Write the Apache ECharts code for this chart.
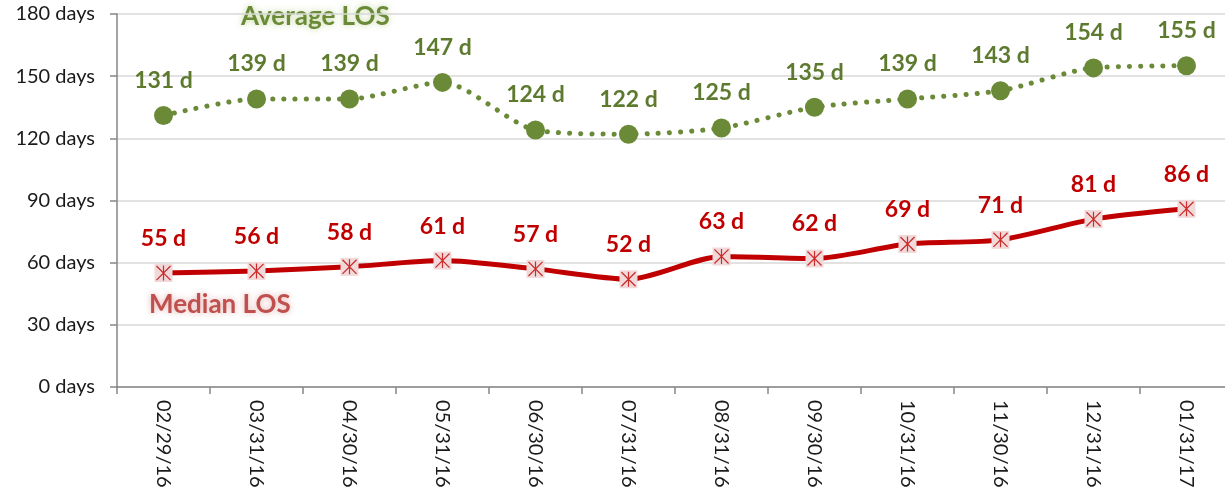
<!DOCTYPE html>
<html>
<head>
<meta charset="utf-8">
<script src="https://cdn.jsdelivr.net/npm/echarts@6/dist/echarts.min.js"></script>
<style>
html,body{margin:0;padding:0;background:#fff;}
#chart{width:1225px;height:495px;}
</style>
</head>
<body>
<div id="chart"></div>
<script>
const categories = ['02/29/16','03/31/16','04/30/16','05/31/16','06/30/16','07/31/16','08/31/16','09/30/16','10/31/16','11/30/16','12/31/16','01/31/17'];
const averageLOS = [131,139,139,147,124,122,125,135,139,143,154,155];
const medianLOS = [55,56,58,61,57,52,63,62,69,71,81,86];
const yTicks = [0,30,60,90,120,150,180];

const FONT = 'Lato, "Open Sans", sans-serif';
const GREEN = '#6a8a37';
const RED = '#c00000';
const asterisk = 'path://M9.2,0 L10.8,0 L10.8,20 L9.2,20 Z M1.2,0 L20,18.8 L18.8,20 L0,1.2 Z M18.8,0 L20,1.2 L1.2,20 L0,18.8 Z';

const chart = echarts.init(document.getElementById('chart'));
chart.setOption({
  animation: false,
  backgroundColor: '#fff',
  grid: {left: 117, width: 1116, top: 14, height: 373, containLabel: false, outerBoundsMode: 'none'},
  xAxis: {
    type: 'category',
    data: categories,
    boundaryGap: true,
    axisLine: {lineStyle: {color: '#868686', width: 1.5}},
    axisTick: {show: true, length: 7, lineStyle: {color: '#868686', width: 1.5}},
    axisLabel: {rotate: -90, fontFamily: FONT, fontSize: 20, color: '#1a1a1a', margin: 13}
  },
  yAxis: {
    type: 'value',
    min: 0, max: 180, interval: 30,
    axisLine: {show: true, lineStyle: {color: '#868686', width: 1.5}},
    axisTick: {show: true, length: 7, lineStyle: {color: '#868686', width: 1.5}},
    splitLine: {lineStyle: {color: '#d9d9d9', width: 1.5}},
    axisLabel: {fontFamily: FONT, fontSize: 20, color: '#1a1a1a', margin: 22,
      formatter: v => yTicks.includes(v) ? v + ' days' : ''}
  },
  graphic: [
    {type: 'text', left: 241, top: 4, style: {text: 'Average LOS', fontFamily: FONT, fontWeight: 'bold', fontSize: 26, fill: GREEN, textShadowColor: 'rgba(155,187,89,0.6)', textShadowBlur: 6}},
    {type: 'text', left: 149, top: 292, style: {text: 'Median LOS', fontFamily: FONT, fontWeight: 'bold', fontSize: 26, fill: '#c0504d', textShadowColor: 'rgba(192,80,77,0.45)', textShadowBlur: 6}}
  ],
  series: [
    {
      name: 'Average LOS', type: 'line', data: averageLOS, smooth: 0.25,
      lineStyle: {color: GREEN, width: 5, type: [0.1, 11], cap: 'round'},
      symbol: 'circle', symbolSize: 19,
      itemStyle: {color: GREEN},
      label: {show: true, position: 'top', distance: 14, formatter: p => p.value + ' d', fontFamily: FONT, fontWeight: 'bold', fontSize: 23, color: '#5e7a2f'},
      z: 3
    },
    {
      name: 'Median LOS', type: 'line', data: medianLOS, smooth: 0.25,
      lineStyle: {color: RED, width: 5},
      symbol: 'rect', symbolSize: 18,
      itemStyle: {color: '#f2d9d9'},
      label: {show: true, position: 'top', distance: 14, formatter: p => p.value + ' d', fontFamily: FONT, fontWeight: 'bold', fontSize: 23, color: RED},
      z: 3
    },
    {
      name: 'Median marks', type: 'scatter', data: medianLOS,
      symbol: asterisk, symbolSize: 15,
      itemStyle: {color: RED},
      silent: true, z: 4
    }
  ]
});
</script>
</body>
</html>
